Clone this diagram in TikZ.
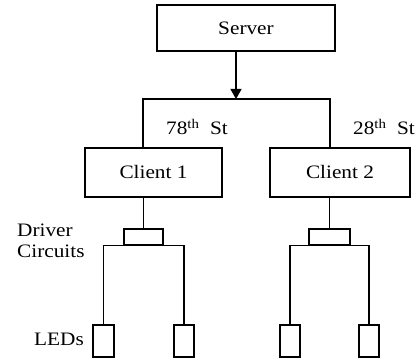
\documentclass[tikz,border=0pt]{standalone}
\usepackage{fontspec}
\setmainfont{Liberation Serif}[FakeStretch=1.12]
\usetikzlibrary{arrows.meta}
\begin{document}
\begin{tikzpicture}[x=1pt,y=-1pt,
  every node/.style={font=\fontsize{19}{21}\selectfont},
  box/.style={draw,line width=1.3pt,rectangle,inner sep=0pt},
  wire/.style={line width=1.3pt},
  lbl/.style={inner sep=0pt}]
\useasboundingbox (0,0) rectangle (417,358);
\node[box,minimum width=178,minimum height=46] (server) at (246,28) {Server};
\node[box,minimum width=137,minimum height=49] (c1) at (153.5,172.5) {Client 1};
\node[box,minimum width=140,minimum height=49] (c2) at (340,172.5) {Client 2};
\node[box,minimum width=39,minimum height=16] (d1) at (143.5,237) {};
\node[box,minimum width=41,minimum height=16] (d2) at (329.5,237) {};
\node[box,minimum width=21,minimum height=32] (l1) at (103.5,341) {};
\node[box,minimum width=20,minimum height=32] (l2) at (184,341) {};
\node[box,minimum width=20,minimum height=32] (l3) at (290,341) {};
\node[box,minimum width=20,minimum height=32] (l4) at (369,341) {};
\coordinate (j) at (236,99);
\coordinate (t1) at (143,99);
\coordinate (t2) at (330,99);
\draw[wire,-{Triangle[length=10pt,width=11pt]}] (server.south -| j) -- (j);
\draw[wire] (c1.north -| t1) -- (t1) -- (t2) -- (c2.north -| t2);
\draw[wire] (c1.south -| d1.north) -- (d1.north);
\draw[wire] (c2.south -| d2.north) -- (d2.north);
\draw[wire] (l1.north) |- (d1.south) -| (l2.north);
\draw[wire] (l3.north) |- (d2.south) -| (l4.north);
\node[lbl] (s78) at (197,127) {78\textsuperscript{th}\ \ St};
\node[lbl] (s28) at (384,127) {28\textsuperscript{th}\ \ St};
\node[lbl,anchor=west,align=left] (drv) at (17,241) {Driver\\Circuits};
\node[lbl,anchor=east] (leds) at (84,339) {LEDs};
\end{tikzpicture}
\end{document}
